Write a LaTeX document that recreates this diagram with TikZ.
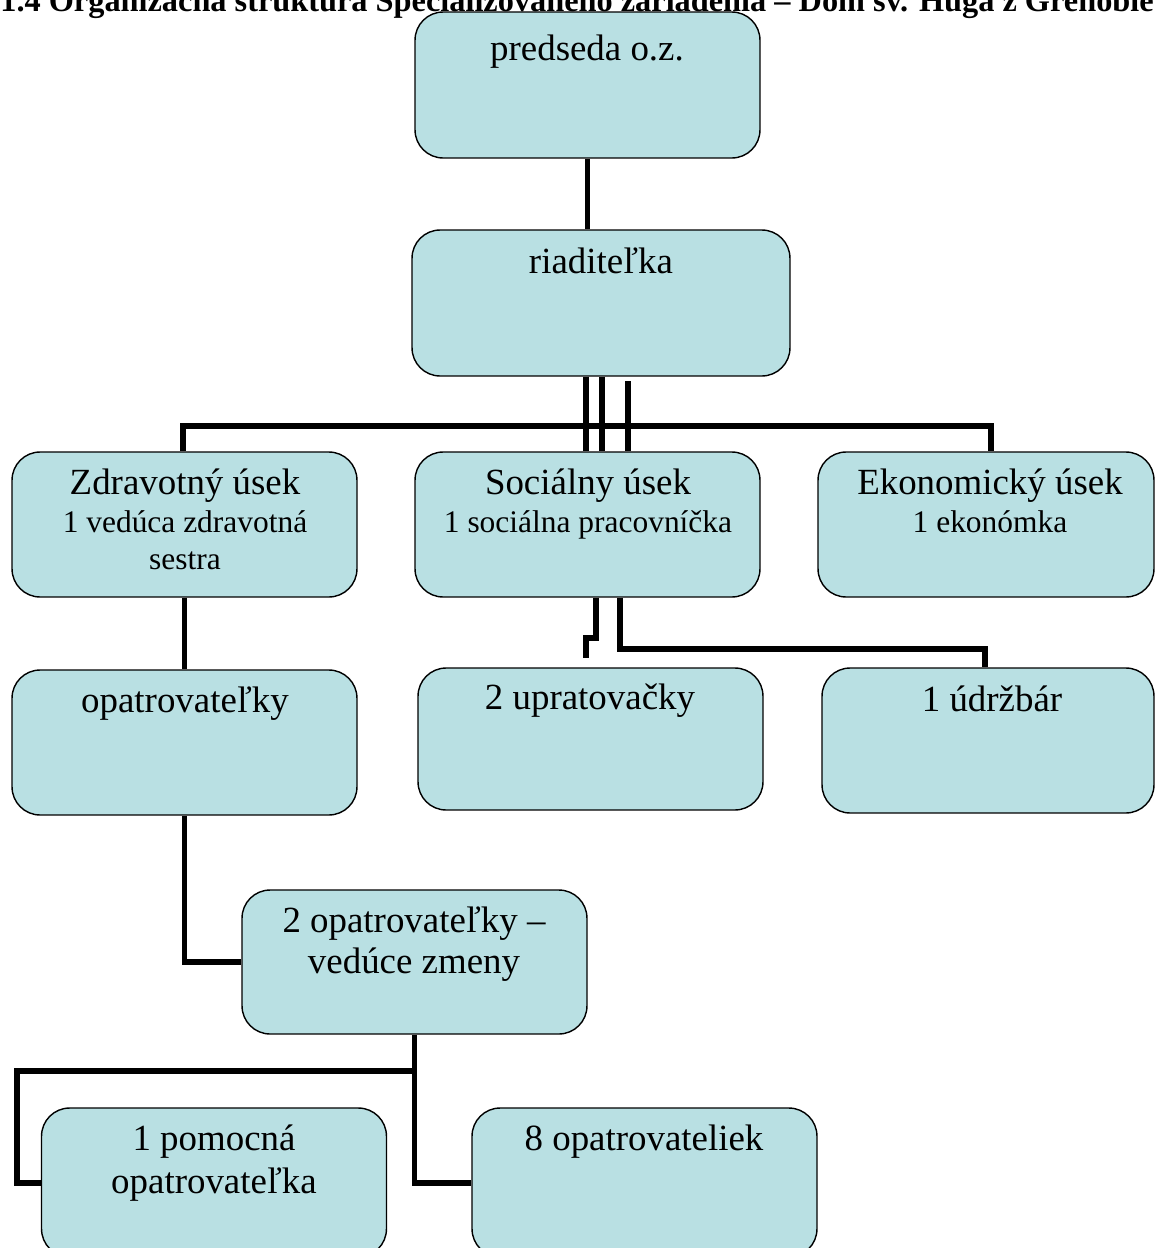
\documentclass[tikz,border=0pt]{standalone}
\usepackage{fontspec}
\setmainfont{Liberation Serif}
\definecolor{boxfill}{RGB}{185,224,227}

\begin{document}
\begin{tikzpicture}[x=0.02cm, y=-0.02cm,
    box/.style = {draw, line width=0.8pt, fill=boxfill, rounded corners=16pt,
                  minimum width=6.9cm, minimum height=2.9cm, inner sep=0pt},
    big/.style = {anchor=base, inner sep=0pt, font=\fontsize{21}{24}\selectfont},
    small/.style = {anchor=base, inner sep=0pt, font=\fontsize{17.9}{21}\selectfont},
    conn/.style = {line width=3.4pt}]
    \useasboundingbox (0,0) rectangle (1154,1248);

    \node[box, minimum height=2.92cm] (pred) at (587.5,85) {};
    \node[box, minimum width=7.56cm, minimum height=2.92cm] (riad) at (601,303) {};
    \node[box] (zdr) at (184.5,524.5) {};
    \node[box] (soc) at (587.5,524.5) {};
    \node[box, minimum width=6.72cm] (eko) at (986,524.5) {};
    \node[box] (opat) at (184.5,742.5) {};
    \node[box, minimum height=2.84cm] (upr) at (590.5,739) {};
    \node[box, minimum width=6.64cm] (udr) at (988,740.5) {};
    \node[box, minimum height=2.88cm] (ved) at (414.5,962) {};
    \node[box, minimum height=2.98cm] (pom) at (214,1182.5) {};
    \node[box, minimum height=2.98cm] (osem) at (644.5,1182.5) {};

    \node[anchor=base west, inner sep=0pt, font=\fontsize{18.4}{22}\selectfont\bfseries] (title) at (0,11)
      {1.4 Organizačná štruktúra Špecializovaného zariadenia – Dom sv. Huga z Grenoble};

    \node[big] (predt) at (587,60) {predseda o.z.};
    \node[big] (riadt) at (601,273) {riaditeľka};
    \node[big] (zdrt) at (185,494) {Zdravotný úsek};
    \node[small] (zdrt2) at (185,532) {1 vedúca zdravotná};
    \node[small] (zdrt3) at (185,569) {sestra};
    \node[big] (soct) at (588,494) {Sociálny úsek};
    \node[small] (soct2) at (588,532) {1 sociálna pracovníčka};
    \node[big] (ekot) at (990,494) {Ekonomický úsek};
    \node[small] (ekot2) at (990,532) {1 ekonómka};
    \node[big] (opatt) at (185,712) {opatrovateľky};
    \node[big] (uprt) at (590,709) {2 upratovačky};
    \node[big] (udrt) at (992,711) {1 údržbár};
    \node[big] (vedt) at (414,932) {2 opatrovateľky –};
    \node[big] (vedt2) at (414,973) {vedúce zmeny};
    \node[big] (pomt) at (214,1150) {1 pomocná};
    \node[big] (pomt2) at (214,1193) {opatrovateľka};
    \node[big] (osemt) at (644,1150) {8 opatrovateliek};

    \coordinate (bl) at (183,426);
    \coordinate (br) at (991,426);
    \coordinate (r3) at (628,381);
    \coordinate (s1) at (586,658);
    \coordinate (vl) at (17,1071);

    \draw[conn] (pred.south) -- (pred.south |- riad.north);
    \draw[conn] (bl |- zdr.north) -- (bl) -- (br) -- (br |- eko.north);
    \foreach \x in {586,602}
      \draw[conn] (riad.south -| \x,0) -- (soc.north -| \x,0);
    \draw[conn] (r3) -- (r3 |- soc.north);
    \draw[conn] (soc.south -| 596,0) -- ++(0,40) -| (s1);
    \draw[conn] (soc.south -| 620,0) -- ++(0,51) -| (udr.north -| 985,0);
    \draw[conn] (zdr.south) -- (opat.north);
    \draw[conn] (opat.south) |- (ved.west);
    \draw[conn] (ved.south) |- (osem.west);
    \draw[conn] (vl -| ved.south) -- (vl) |- (pom.west);
\end{tikzpicture}
\end{document}
